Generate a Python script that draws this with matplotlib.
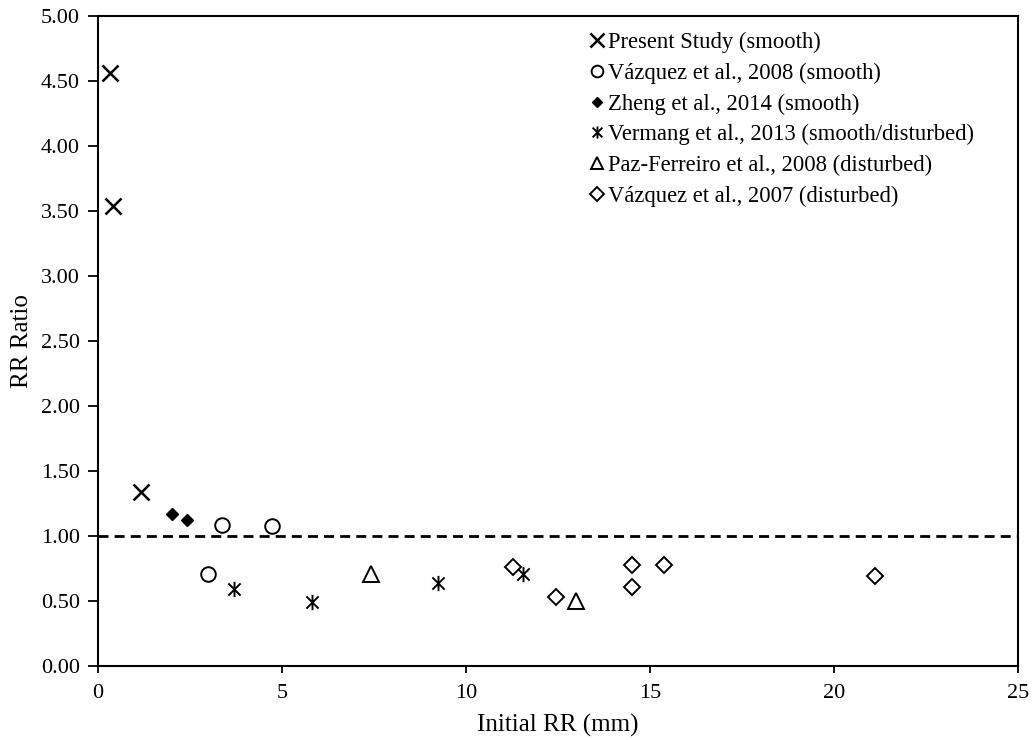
import matplotlib
matplotlib.use("Agg")
import matplotlib.pyplot as plt
from matplotlib.path import Path
import numpy as np

plt.rcParams['font.family'] = ['Liberation Serif', 'DejaVu Serif']

# Data
present_x = [0.33, 0.41, 1.17]
present_y = [4.56, 3.54, 1.34]
vaz08_x = [3.38, 4.73, 3.00]
vaz08_y = [1.085, 1.08, 0.71]
zheng_x = [2.01, 2.42]
zheng_y = [1.17, 1.12]
verm_x = [3.70, 5.81, 9.25, 11.56]
verm_y = [0.59, 0.49, 0.64, 0.705]
paz_x = [7.42, 13.00]
paz_y = [0.71, 0.50]
vaz07_x = [11.27, 12.45, 14.51, 14.51, 15.38, 21.11]
vaz07_y = [0.764, 0.53, 0.78, 0.61, 0.78, 0.695]

labels = ["Present Study (smooth)", "Vázquez et al., 2008 (smooth)",
          "Zheng et al., 2014 (smooth)", "Vermang et al., 2013 (smooth/disturbed)",
          "Paz-Ferreiro et al., 2008 (disturbed)", "Vázquez et al., 2007 (disturbed)"]

yticks = [0.0, 0.5, 1.0, 1.5, 2.0, 2.5, 3.0, 3.5, 4.0, 4.5, 5.0]
xticks = [0, 5, 10, 15, 20, 25]

# asterisk marker: X plus vertical line
ast = Path([(0, -1), (0, 1), (-0.8, -0.8), (0.8, 0.8), (-0.8, 0.8), (0.8, -0.8)],
           [Path.MOVETO, Path.LINETO, Path.MOVETO, Path.LINETO, Path.MOVETO, Path.LINETO])

fig = plt.figure(figsize=(10.34, 7.40), dpi=100)
ax = fig.add_axes([98/1034, 74/740, 920/1034, 650/740])

ax.axhline(1.0, color='black', lw=2.0, linestyle=(0, (3.6, 2.2)), zorder=1)

ax.plot(present_x, present_y, linestyle='none', marker='x', ms=12, mew=1.8,
        color='black', label=labels[0])
ax.plot(vaz08_x, vaz08_y, linestyle='none', marker='o', ms=10.5, mew=1.4,
        mfc='white', mec='black', label=labels[1])
ax.plot(zheng_x, zheng_y, linestyle='none', marker='D', ms=6.5, mew=1.0,
        mfc='black', mec='black', label=labels[2])
ax.plot(verm_x, verm_y, linestyle='none', marker=ast, ms=11, mew=1.4,
        color='black', label=labels[3])
ax.plot(paz_x, paz_y, linestyle='none', marker='^', ms=11.5, mew=1.4,
        mfc='white', mec='black', label=labels[4])
ax.plot(vaz07_x, vaz07_y, linestyle='none', marker='D', ms=8.5, mew=1.4,
        mfc='white', mec='black', label=labels[5])

ax.set_xlim(0, 25)
ax.set_ylim(0, 5)
ax.set_xticks(xticks)
ax.set_yticks(yticks)
ax.set_yticklabels([f"{v:.2f}" for v in yticks])
ax.tick_params(axis='both', direction='out', labelsize=16, width=1.3, color='black')
ax.tick_params(axis='y', length=7, pad=6)
ax.tick_params(axis='x', length=5, pad=8)
for s in ax.spines.values():
    s.set_linewidth(1.5)

ax.set_xlabel("Initial RR (mm)", fontsize=18, labelpad=8)
ax.set_ylabel("RR Ratio", fontsize=18, labelpad=6)

leg = ax.legend(loc='upper left', bbox_to_anchor=(590/1034, 1 - 32/740),
                bbox_transform=fig.transFigure, frameon=False, fontsize=16.3,
                handlelength=0.6, handletextpad=0.2, labelspacing=0.42,
                borderpad=0, borderaxespad=0, numpoints=1, markerscale=0.8)

fig.savefig("out.png", dpi=100)
